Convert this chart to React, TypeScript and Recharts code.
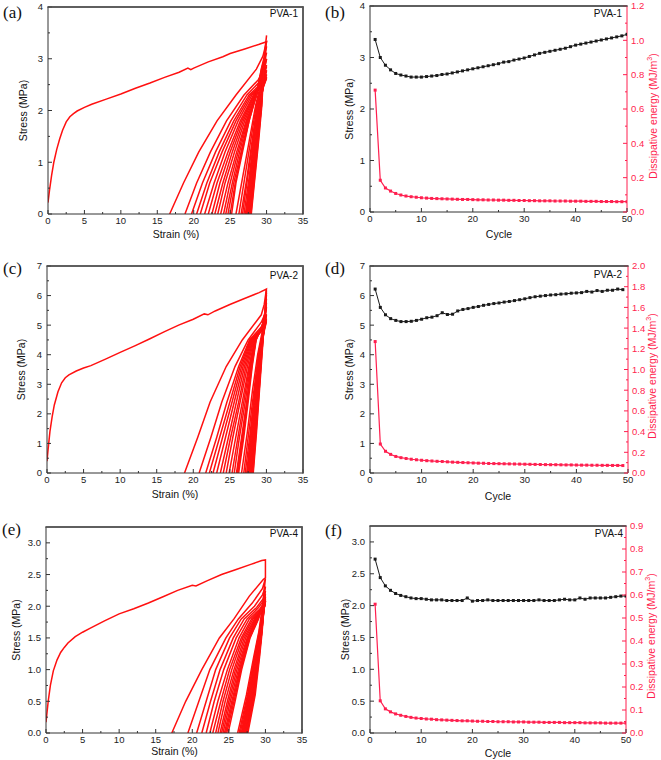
import React from 'react';
import { ComposedChart, Line, XAxis, YAxis, CartesianGrid } from 'recharts';

const FONT = '"Liberation Sans", Arial, sans-serif';
const SERIF = '"Liberation Serif", "Times New Roman", serif';
const AXIS = '#333333';
const FRAME = '#555555';
const LOOP_RED = '#ff1010';
const ENERGY_RED = '#ff1f4f';
const STRESS_BLACK = '#1a1a1a';

// ---------- tick labels ----------
const STRAIN_TICKS = [0, 5, 10, 15, 20, 25, 30, 35];
const CYCLE_TICKS = [0, 10, 20, 30, 40, 50];
const STRESS_TICKS_A = [0, 1, 2, 3, 4];
const STRESS_TICKS_C = [0, 1, 2, 3, 4, 5, 6, 7];
const STRESS_TICKS_E = [0, 0.5, 1, 1.5, 2, 2.5, 3];
const ENERGY_TICKS_B = [0, 0.2, 0.4, 0.6, 0.8, 1.0, 1.2];
const ENERGY_TICKS_D = [0, 0.2, 0.4, 0.6, 0.8, 1.0, 1.2, 1.4, 1.6, 1.8, 2.0];
const ENERGY_TICKS_F = [0, 0.1, 0.2, 0.3, 0.4, 0.5, 0.6, 0.7, 0.8, 0.9];

// ---------- (a) PVA-1 cyclic stress-strain ----------
const LOADING_A = [
  [0, 0.22], [0.2, 0.45], [0.5, 0.75], [0.8, 1.0], [1.2, 1.25], [1.6, 1.45], [2, 1.62],
  [2.5, 1.78], [3, 1.88], [3.5, 1.94], [4, 1.99], [5, 2.06], [6, 2.12], [8, 2.22],
  [10, 2.32], [12, 2.43], [14, 2.53], [16, 2.64], [18, 2.74], [19.2, 2.82], [19.6, 2.79],
  [20, 2.82], [22, 2.94], [24, 3.04], [25, 3.1], [27, 3.19], [29, 3.28], [30, 3.33],
];
const RELOAD_LEVELS_A = [0, 0.7, 1.4, 2.1];
const UNLOAD_LEVELS_A = [0, 0.6, 1.2, 1.8, 2.3];
const FIRST_UNLOAD_A = { top: [[29.5, 3.05], [28.6, 2.8]], down: [16.7, 18.6, 20.7, 23.2, 25.8] };
const LOOPS_A = [
  { up: [25.8, 26.7, 27.6, 28.5], top: [[29.5, 2.7], [30, 3.0], [29.6, 2.8], [28.9, 2.6]], down: [18.8, 20.4, 22.3, 24.5, 26.9] },
  { up: [26.2, 27.0, 27.8, 28.6], top: [[29.5, 2.6], [30, 2.85], [29.6, 2.7], [29.0, 2.55]], down: [19.7, 21.2, 23.0, 25.1, 27.3] },
  { up: [26.5, 27.3, 28.0, 28.7], top: [[29.5, 2.55], [30, 2.76], [29.7, 2.62], [29.1, 2.5]], down: [20.4, 21.8, 23.5, 25.5, 27.6] },
  { up: [26.7, 27.4, 28.1, 28.8], top: [[29.55, 2.5], [30, 2.69], [29.7, 2.58], [29.2, 2.48]], down: [20.9, 22.2, 23.9, 25.8, 27.8] },
  { up: [26.9, 27.6, 28.2, 28.9], top: [[29.6, 2.48], [30, 2.64], [29.7, 2.55], [29.3, 2.47]], down: [21.5, 22.8, 24.3, 26.1, 28.0] },
  { up: [27.1, 27.7, 28.3, 29.0], top: [[29.6, 2.47], [30, 2.62], [29.8, 2.55], [29.4, 2.48]], down: [22.0, 23.2, 24.7, 26.4, 28.2] },
  { up: [27.2, 27.8, 28.4, 29.0], top: [[29.6, 2.5], [30, 2.65], [29.8, 2.58], [29.4, 2.5]], down: [22.5, 23.6, 25.0, 26.6, 28.3] },
  { up: [27.3, 27.9, 28.5, 29.1], top: [[29.65, 2.55], [30, 2.7], [29.8, 2.62], [29.4, 2.53]], down: [22.9, 24.0, 25.3, 26.8, 28.4] },
  { up: [27.4, 28.0, 28.6, 29.1], top: [[29.65, 2.62], [30, 2.78], [29.75, 2.68], [29.3, 2.58]], down: [23.3, 24.3, 25.6, 27.0, 28.5] },
  { up: [27.5, 28.1, 28.6, 29.15], top: [[29.65, 2.7], [30, 2.88], [29.7, 2.75], [29.3, 2.63]], down: [23.7, 24.7, 25.9, 27.2, 28.6] },
  { up: [27.6, 28.15, 28.7, 29.2], top: [[29.65, 2.78], [30, 2.99], [29.7, 2.83], [29.3, 2.68]], down: [24.1, 25.0, 26.1, 27.3, 28.6] },
  { up: [27.7, 28.2, 28.75, 29.25], top: [[29.7, 2.9], [30, 3.12], [29.7, 2.9], [29.3, 2.72]], down: [24.4, 25.3, 26.3, 27.4, 28.6] },
  { up: [27.8, 28.3, 28.8, 29.3], top: [[29.7, 3.0], [30, 3.24], [29.7, 2.97], [29.3, 2.76]], down: [24.7, 25.5, 26.5, 27.5, 28.6] },
  { up: [27.85, 28.35, 28.85, 29.3], top: [[29.7, 3.05], [30, 3.34], [29.7, 3.0], [29.3, 2.8]], down: [25.0, 25.7, 26.6, 27.6, 28.6] },
  { up: [27.9, 28.4, 28.9, 29.35], top: [[29.75, 3.15], [30, 3.45], [29.7, 3.05], [29.3, 2.82]], down: [25.2, 25.8, 26.7, 27.6, 28.6] },
];

// ---------- (c) PVA-2 cyclic stress-strain ----------
const LOADING_C = [
  [0, 0.4], [0.15, 0.8], [0.4, 1.4], [0.7, 1.9], [1, 2.3], [1.5, 2.75], [2, 3.05], [2.5, 3.22],
  [3, 3.32], [4, 3.45], [5, 3.55], [6, 3.63], [8, 3.85], [10, 4.08], [12, 4.3], [14, 4.53],
  [16, 4.77], [18, 5.0], [20, 5.2], [21.5, 5.38], [22, 5.35], [23, 5.48], [25, 5.7], [27, 5.9],
  [29, 6.1], [30, 6.22],
];
const RELOAD_LEVELS_C = [0, 1.4, 2.8, 4.0];
const UNLOAD_LEVELS_C = [0, 1.2, 2.4, 3.6, 4.5];
const FIRST_UNLOAD_C = { top: [[29.7, 5.7], [29.3, 5.35]], down: [18.8, 20.6, 22.3, 24.5, 26.7] };
const LOOPS_C = [
  { up: [26.6, 27.4, 28.1, 28.8], top: [[29.6, 5.0], [30, 5.6], [29.75, 5.35], [29.3, 5.1]], down: [20.8, 22.4, 23.9, 25.7, 27.5] },
  { up: [26.9, 27.6, 28.3, 28.9], top: [[29.6, 4.9], [30, 5.35], [29.75, 5.15], [29.35, 4.95]], down: [21.7, 23.2, 24.6, 26.2, 27.7] },
  { up: [27.1, 27.8, 28.4, 29.0], top: [[29.65, 4.85], [30, 5.22], [29.8, 5.05], [29.4, 4.88]], down: [22.2, 23.6, 25.0, 26.4, 27.8] },
  { up: [27.3, 27.9, 28.5, 29.05], top: [[29.65, 4.8], [30, 5.16], [29.8, 5.0], [29.4, 4.85]], down: [22.7, 24.0, 25.3, 26.6, 27.9] },
  { up: [27.4, 28.0, 28.6, 29.1], top: [[29.7, 4.8], [30, 5.12], [29.8, 4.98], [29.45, 4.82]], down: [23.2, 24.4, 25.6, 26.8, 28.0] },
  { up: [27.5, 28.1, 28.65, 29.1], top: [[29.7, 4.85], [30, 5.2], [29.8, 5.0], [29.45, 4.82]], down: [23.7, 24.8, 25.9, 27.0, 28.1] },
  { up: [27.6, 28.2, 28.7, 29.15], top: [[29.7, 4.9], [30, 5.32], [29.8, 5.05], [29.45, 4.85]], down: [24.1, 25.1, 26.2, 27.2, 28.2] },
  { up: [27.7, 28.25, 28.75, 29.2], top: [[29.7, 4.95], [30, 5.37], [29.8, 5.1], [29.45, 4.87]], down: [24.5, 25.4, 26.4, 27.4, 28.3] },
  { up: [27.8, 28.3, 28.8, 29.2], top: [[29.7, 5.0], [30, 5.6], [29.8, 5.2], [29.45, 4.9]], down: [24.9, 25.8, 26.7, 27.6, 28.4] },
  { up: [27.9, 28.4, 28.85, 29.25], top: [[29.75, 5.1], [30, 5.75], [29.8, 5.25], [29.45, 4.92]], down: [25.3, 26.1, 26.9, 27.7, 28.45] },
  { up: [28.0, 28.45, 28.9, 29.3], top: [[29.75, 5.2], [30, 5.89], [29.8, 5.3], [29.45, 4.95]], down: [25.6, 26.3, 27.1, 27.8, 28.5] },
  { up: [28.05, 28.5, 28.95, 29.3], top: [[29.75, 5.25], [30, 6.02], [29.8, 5.35], [29.45, 4.97]], down: [25.9, 26.6, 27.3, 27.9, 28.5] },
  { up: [28.1, 28.55, 29.0, 29.35], top: [[29.8, 5.3], [30, 6.09], [29.8, 5.4], [29.45, 5.0]], down: [26.0, 26.7, 27.35, 27.95, 28.55] },
  { up: [28.15, 28.6, 29.0, 29.35], top: [[29.8, 5.35], [30, 6.14], [29.8, 5.4], [29.45, 5.0]], down: [26.1, 26.8, 27.4, 28.0, 28.55] },
  { up: [28.2, 28.65, 29.05, 29.4], top: [[29.8, 5.4], [30, 6.2], [29.8, 5.45], [29.45, 5.0]], down: [26.2, 26.9, 27.5, 28.05, 28.6] },
];

// ---------- (e) PVA-4 cyclic stress-strain ----------
const LOADING_E = [
  [0, 0.17], [0.3, 0.5], [0.6, 0.75], [1, 0.98], [1.5, 1.15], [2, 1.27], [2.5, 1.35], [3, 1.42],
  [4, 1.52], [5, 1.59], [6, 1.65], [8, 1.77], [10, 1.88], [12, 1.96], [14, 2.05], [16, 2.15],
  [18, 2.25], [20, 2.33], [20.5, 2.32], [22, 2.4], [24, 2.5], [26, 2.58], [28, 2.66], [29.5, 2.72],
  [30, 2.73],
];
const RELOAD_LEVELS_E = [0, 0.6, 1.2, 1.6];
const UNLOAD_LEVELS_E = [0, 0.5, 1.0, 1.5, 1.8];
const FIRST_UNLOAD_E = { top: [[30, 2.45], [29.7, 2.42], [27.8, 2.16]], down: [17.2, 19.1, 21.3, 23.7, 25.7] };
const LOOPS_E = [
  { up: [26.2, 27.4, 28.4, 29.1], top: [[29.6, 2.0], [30, 2.44], [29.6, 2.28], [28.2, 2.05]], down: [19.4, 20.9, 22.4, 24.6, 26.3] },
  { up: [26.4, 27.55, 28.5, 29.15], top: [[29.65, 1.97], [30, 2.31], [29.6, 2.18], [28.5, 2.0]], down: [20.6, 21.9, 23.2, 25.1, 26.7] },
  { up: [26.55, 27.65, 28.6, 29.2], top: [[29.7, 1.95], [30, 2.24], [29.7, 2.12], [28.8, 1.98]], down: [21.3, 22.5, 23.8, 25.6, 27.1] },
  { up: [26.7, 27.75, 28.7, 29.25], top: [[29.7, 1.94], [30, 2.19], [29.7, 2.08], [29.0, 1.97]], down: [21.9, 23.0, 24.3, 26.0, 27.5] },
  { up: [26.8, 27.85, 28.75, 29.3], top: [[29.72, 1.93], [30, 2.14], [29.75, 2.05], [29.2, 1.95]], down: [22.4, 23.5, 24.8, 26.4, 27.8] },
  { up: [26.9, 27.95, 28.8, 29.3], top: [[29.72, 1.93], [30, 2.11], [29.75, 2.03], [29.3, 1.94]], down: [22.8, 23.9, 25.1, 26.7, 28.1] },
  { up: [27.0, 28.0, 28.85, 29.35], top: [[29.75, 1.93], [30, 2.09], [29.8, 2.02], [29.35, 1.93]], down: [23.2, 24.2, 25.4, 26.9, 28.3] },
  { up: [27.1, 28.1, 28.9, 29.4], top: [[29.75, 1.93], [30, 2.08], [29.8, 2.01], [29.4, 1.93]], down: [23.5, 24.5, 25.7, 27.1, 28.5] },
  { up: [27.2, 28.2, 28.95, 29.4], top: [[29.75, 1.93], [30, 2.07], [29.8, 2.0], [29.45, 1.93]], down: [23.8, 24.8, 25.9, 27.3, 28.6] },
  { up: [27.3, 28.3, 29.0, 29.45], top: [[29.78, 1.94], [30, 2.08], [29.8, 2.01], [29.45, 1.94]], down: [24.0, 25.0, 26.1, 27.5, 28.7] },
  { up: [27.35, 28.35, 29.05, 29.45], top: [[29.78, 1.94], [30, 2.08], [29.8, 2.01], [29.5, 1.94]], down: [24.2, 25.2, 26.3, 27.6, 28.8] },
  { up: [27.4, 28.4, 29.1, 29.5], top: [[29.8, 1.95], [30, 2.08], [29.8, 2.01], [29.5, 1.95]], down: [24.4, 25.4, 26.45, 27.7, 28.9] },
  { up: [27.45, 28.45, 29.1, 29.5], top: [[29.8, 1.96], [30, 2.09], [29.8, 2.02], [29.5, 1.95]], down: [24.55, 25.55, 26.55, 27.8, 28.95] },
  { up: [27.5, 28.5, 29.15, 29.5], top: [[29.8, 1.98], [30, 2.12], [29.8, 2.04], [29.55, 1.97]], down: [24.7, 25.7, 26.65, 27.85, 29.0] },
  { up: [27.6, 28.6, 29.2, 29.55], top: [[29.82, 2.0], [30, 2.15], [29.8, 2.06], [29.55, 1.98]], down: [24.9, 25.85, 26.75, 27.9, 29.05] },
];

// ---------- (b) (d) (f) peak stress and dissipative energy per cycle ----------
const STRESS_B = [
  3.35, 3.0, 2.85, 2.76, 2.69, 2.66, 2.64, 2.62, 2.62, 2.62,
  2.63, 2.64, 2.65, 2.67, 2.68, 2.70, 2.72, 2.74, 2.76, 2.78,
  2.80, 2.82, 2.84, 2.86, 2.88, 2.91, 2.92, 2.95, 2.97, 2.99,
  3.02, 3.05, 3.08, 3.10, 3.12, 3.14, 3.16, 3.18, 3.21, 3.24,
  3.26, 3.28, 3.30, 3.32, 3.34, 3.36, 3.38, 3.40, 3.42, 3.45,
];
const ENERGY_B = [
  0.71, 0.185, 0.14, 0.122, 0.108, 0.099, 0.093, 0.089, 0.086, 0.083,
  0.081, 0.079, 0.078, 0.077, 0.076, 0.075, 0.074, 0.073, 0.073, 0.072,
  0.071, 0.071, 0.070, 0.070, 0.069, 0.069, 0.068, 0.068, 0.067, 0.067,
  0.066, 0.066, 0.065, 0.065, 0.065, 0.064, 0.064, 0.064, 0.063, 0.063,
  0.063, 0.062, 0.062, 0.062, 0.061, 0.061, 0.061, 0.060, 0.060, 0.060,
];
const STRESS_D = [
  6.22, 5.6, 5.35, 5.22, 5.16, 5.12, 5.12, 5.13, 5.16, 5.2,
  5.25, 5.27, 5.32, 5.42, 5.36, 5.37, 5.48, 5.53, 5.56, 5.6,
  5.63, 5.67, 5.7, 5.73, 5.75, 5.78, 5.8, 5.83, 5.86, 5.89,
  5.93, 5.96, 5.98, 6.0, 6.02, 6.03, 6.05, 6.06, 6.08, 6.09,
  6.1, 6.14, 6.12, 6.17, 6.14, 6.18, 6.18, 6.22, 6.2,
];
const ENERGY_D = [
  1.27, 0.28, 0.21, 0.18, 0.16, 0.148, 0.14, 0.133, 0.128, 0.123,
  0.119, 0.116, 0.113, 0.111, 0.108, 0.105, 0.103, 0.101, 0.099, 0.097,
  0.095, 0.094, 0.092, 0.091, 0.09, 0.089, 0.088, 0.087, 0.086, 0.085,
  0.084, 0.083, 0.082, 0.081, 0.08, 0.08, 0.079, 0.078, 0.078, 0.077,
  0.076, 0.076, 0.075, 0.075, 0.074, 0.074, 0.073, 0.073, 0.072,
];
const STRESS_F = [
  2.73, 2.44, 2.31, 2.24, 2.19, 2.16, 2.14, 2.12, 2.11, 2.11,
  2.10, 2.09, 2.09, 2.09, 2.08, 2.08, 2.08, 2.08, 2.12, 2.07,
  2.08, 2.08, 2.09, 2.08, 2.08, 2.08, 2.08, 2.08, 2.08, 2.08,
  2.08, 2.08, 2.09, 2.08, 2.08, 2.08, 2.09, 2.1, 2.09, 2.09,
  2.12, 2.1, 2.12, 2.12, 2.12, 2.12, 2.13, 2.14, 2.15, 2.15,
];
const ENERGY_F = [
  0.56, 0.14, 0.105, 0.092, 0.083, 0.077, 0.072, 0.068, 0.065, 0.063,
  0.061, 0.06, 0.058, 0.057, 0.056, 0.055, 0.054, 0.053, 0.053, 0.052,
  0.051, 0.051, 0.05, 0.05, 0.049, 0.049, 0.049, 0.048, 0.048, 0.048,
  0.047, 0.047, 0.047, 0.046, 0.046, 0.046, 0.046, 0.045, 0.045, 0.045,
  0.045, 0.044, 0.044, 0.044, 0.044, 0.043, 0.043, 0.043, 0.043, 0.043,
];

// ---------- layout of the six panels ----------
const Y_AXIS_W = 30;
const X_AXIS_H = 20;
const LAYOUT_A = { x: 0, y: 0, w: 330, h: 250, margin: { top: 7, right: 27, bottom: 16, left: 18 } };
const LAYOUT_C = { x: 0, y: 250, w: 330, h: 255, margin: { top: 16, right: 27, bottom: 12, left: 17 } };
const LAYOUT_E = { x: 0, y: 505, w: 330, h: 255, margin: { top: 22, right: 28, bottom: 7, left: 16 } };
const LAYOUT_B = { x: 330, y: 0, w: 331, h: 250, margin: { top: 6, right: 4, bottom: 18, left: 10 } };
const LAYOUT_D = { x: 330, y: 250, w: 331, h: 255, margin: { top: 16, right: 3, bottom: 12, left: 10 } };
const LAYOUT_F = { x: 330, y: 505, w: 331, h: 255, margin: { top: 21, right: 5, bottom: 7, left: 10 } };

// ---------- helpers ----------
type Loop = { up: number[]; top: number[][]; down: number[] };
type Pt = { x: number; y: number };

function loopPoints(loop: Loop, upLv: number[], downLv: number[]): Pt[] {
  const pts: Pt[] = loop.up.map((x, i) => ({ x, y: upLv[i] }));
  loop.top.forEach(([x, y]) => pts.push({ x, y }));
  for (let i = downLv.length - 1; i >= 0; i--) pts.push({ x: loop.down[i], y: downLv[i] });
  return pts;
}

function firstPoints(loading: number[][], first: { top: number[][]; down: number[] }, downLv: number[]): Pt[] {
  const pts: Pt[] = loading.map(([x, y]) => ({ x, y }));
  first.top.forEach(([x, y]) => pts.push({ x, y }));
  for (let i = downLv.length - 1; i >= 0; i--) pts.push({ x: first.down[i], y: downLv[i] });
  return pts;
}

// majors plus a minor tick half way between each pair
function withMinors(majors: number[]) {
  const out: number[] = [];
  majors.forEach((v, i) => {
    if (i > 0) out.push((majors[i - 1] + v) / 2);
    out.push(v);
  });
  return out;
}

function makeTick(side: 'bottom' | 'left' | 'right', majors: number[], digits: number, color: string) {
  const majorSet = new Set(majors);
  return (props: any) => {
    const { x, y, payload } = props;
    const v = payload.value;
    const major = majorSet.has(v);
    const len = major ? 4 : 2;
    const label = v.toFixed(digits);
    const textFill = side === 'right' ? color : '#222';
    if (side === 'bottom') {
      return (
        <g>
          <line x1={x} x2={x} y1={y} y2={y - len} stroke={color} />
          {major && (
            <text x={x} y={y + 10} textAnchor="middle" fontSize={9.5} fontFamily={FONT} fill={textFill}>{label}</text>
          )}
        </g>
      );
    }
    if (side === 'left') {
      return (
        <g>
          <line x1={x} x2={x + len} y1={y} y2={y} stroke={color} />
          {major && (
            <text x={x - 5} y={y + 3.4} textAnchor="end" fontSize={9.5} fontFamily={FONT} fill={textFill}>{label}</text>
          )}
        </g>
      );
    }
    return (
      <g>
        <line x1={x} x2={x - len} y1={y} y2={y} stroke={color} />
        {major && (
          <text x={x + 4} y={y + 3.4} textAnchor="start" fontSize={9.5} fontFamily={FONT} fill={textFill}>{label}</text>
        )}
      </g>
    );
  };
}

const squareDot = (color: string) => (p: any) => (
  <rect key={`d${p.index}`} x={p.cx - 1.5} y={p.cy - 1.5} width={3} height={3} fill={color} />
);

// the plot box edges that have no axis: top edge, plus right edge on the strain panels
const topEdge = ({ offset }: any) => [offset.top];
const rightEdge = ({ offset }: any) => [offset.left + offset.width];

// ---------- panels ----------
function StrainPanel({ layout, yMax, yTicks, yDigits, loading, first, loops, upLv, downLv }: any) {
  const paths = [firstPoints(loading, first, downLv), ...loops.map((l: Loop) => loopPoints(l, upLv, downLv))];
  return (
    <div style={{ position: 'absolute', left: layout.x, top: layout.y }}>
      <ComposedChart width={layout.w} height={layout.h} margin={layout.margin}>
        <CartesianGrid
          stroke={FRAME} strokeWidth={1.5}
          horizontalCoordinatesGenerator={topEdge} verticalCoordinatesGenerator={rightEdge}
        />
        <XAxis
          type="number" dataKey="x" domain={[0, 35]} allowDataOverflow
          ticks={withMinors(STRAIN_TICKS)} interval={0} tickSize={0} tickMargin={0} height={X_AXIS_H}
          tick={makeTick('bottom', STRAIN_TICKS, 0, AXIS)} tickLine={false} axisLine={{ stroke: AXIS }}
        />
        <YAxis
          type="number" domain={[0, yMax]} allowDataOverflow width={Y_AXIS_W}
          ticks={withMinors(yTicks)} interval={0} tickSize={0} tickMargin={0}
          tick={makeTick('left', yTicks, yDigits, AXIS)} tickLine={false} axisLine={{ stroke: AXIS }}
        />
        {paths.map((d, i) => (
          <Line
            key={i} data={d} dataKey="y" type="linear" stroke={LOOP_RED} strokeWidth={1.5}
            dot={false} activeDot={false} isAnimationActive={false}
          />
        ))}
      </ComposedChart>
    </div>
  );
}

function CyclePanel({ layout, stress, energy, yMax, yTicks, yDigits, eMax, eTicks }: any) {
  const rows = stress.map((s: number, i: number) => ({ cycle: i + 1, stress: s, energy: energy[i] }));
  return (
    <div style={{ position: 'absolute', left: layout.x, top: layout.y }}>
      <ComposedChart width={layout.w} height={layout.h} margin={layout.margin} data={rows}>
        <CartesianGrid
          yAxisId="left" stroke={FRAME} strokeWidth={1.5} vertical={false}
          horizontalCoordinatesGenerator={topEdge}
        />
        <XAxis
          type="number" dataKey="cycle" domain={[0, 50]} allowDataOverflow
          ticks={withMinors(CYCLE_TICKS)} interval={0} tickSize={0} tickMargin={0} height={X_AXIS_H}
          tick={makeTick('bottom', CYCLE_TICKS, 0, AXIS)} tickLine={false} axisLine={{ stroke: AXIS }}
        />
        <YAxis
          yAxisId="left" type="number" domain={[0, yMax]} allowDataOverflow width={Y_AXIS_W}
          ticks={withMinors(yTicks)} interval={0} tickSize={0} tickMargin={0}
          tick={makeTick('left', yTicks, yDigits, AXIS)} tickLine={false} axisLine={{ stroke: AXIS }}
        />
        <YAxis
          yAxisId="right" orientation="right" type="number" domain={[0, eMax]} allowDataOverflow width={Y_AXIS_W}
          ticks={withMinors(eTicks)} interval={0} tickSize={0} tickMargin={0}
          tick={makeTick('right', eTicks, 1, ENERGY_RED)} tickLine={false} axisLine={{ stroke: ENERGY_RED }}
        />
        <Line
          yAxisId="left" dataKey="stress" type="linear" stroke={STRESS_BLACK} strokeWidth={1}
          dot={squareDot(STRESS_BLACK)} activeDot={false} isAnimationActive={false}
        />
        <Line
          yAxisId="right" dataKey="energy" type="linear" stroke={ENERGY_RED} strokeWidth={1.2}
          dot={squareDot(ENERGY_RED)} activeDot={false} isAnimationActive={false}
        />
      </ComposedChart>
    </div>
  );
}

// top edge (and right edge for the strain panels) of each plot box, from the layout
function frameLines(l: any, withRight: boolean, rightAxis: boolean) {
  const left = l.x + l.margin.left + Y_AXIS_W;
  const right = l.x + l.w - l.margin.right - (rightAxis ? Y_AXIS_W : 0);
  const top = l.y + l.margin.top;
  const bottom = l.y + l.h - l.margin.bottom - X_AXIS_H;
  const lines = [{ x1: left, y1: top, x2: right, y2: top }];
  if (withRight) lines.push({ x1: right, y1: top, x2: right, y2: bottom });
  return lines;
}

// text that sits over the six charts: panel letters, sample names, axis titles
const PANEL_LETTERS = [
  { t: '(a)', x: 3, y: 18 }, { t: '(b)', x: 325, y: 18 },
  { t: '(c)', x: 3, y: 274 }, { t: '(d)', x: 325, y: 274 },
  { t: '(e)', x: 2, y: 535 }, { t: '(f)', x: 325, y: 536 },
];
const SAMPLE_NAMES = [
  { t: 'PVA-1', x: 298, y: 17 }, { t: 'PVA-1', x: 622, y: 17 },
  { t: 'PVA-2', x: 298, y: 279 }, { t: 'PVA-2', x: 622, y: 278 },
  { t: 'PVA-4', x: 298, y: 537 }, { t: 'PVA-4', x: 623, y: 537 },
];
const X_TITLES = [
  { t: 'Strain (%)', x: 176, y: 233.5 }, { t: 'Cycle', x: 499, y: 234 },
  { t: 'Strain (%)', x: 175, y: 494 }, { t: 'Cycle', x: 498, y: 496 },
  { t: 'Strain (%)', x: 174.5, y: 751 }, { t: 'Cycle', x: 498, y: 753 },
];
const Y_TITLES = [
  { x: 23, y: 110.5 }, { x: 349, y: 109 },
  { x: 21, y: 369.5 }, { x: 349, y: 369.5 },
  { x: 15.5, y: 630 }, { x: 344.5, y: 629.5 },
];
const ENERGY_TITLES = [
  { x: 653, y: 116 }, { x: 652, y: 376 }, { x: 650.5, y: 636 },
];

function Overlay() {
  const frames = [
    ...[LAYOUT_A, LAYOUT_C, LAYOUT_E].flatMap((l) => frameLines(l, true, false)),
    ...[LAYOUT_B, LAYOUT_D, LAYOUT_F].flatMap((l) => frameLines(l, false, true)),
  ];
  return (
    <svg width={661} height={760} style={{ position: 'absolute', left: 0, top: 0, pointerEvents: 'none', zIndex: 5 }}>
      {frames.map((f, i) => (
        <line key={`f${i}`} x1={f.x1} y1={f.y1} x2={f.x2} y2={f.y2} stroke={FRAME} strokeWidth={1.5} strokeLinecap="square" />
      ))}
      {PANEL_LETTERS.map((p, i) => (
        <text key={`l${i}`} x={p.x} y={p.y} fontFamily={SERIF} fontSize={17} fill="#111">{p.t}</text>
      ))}
      {SAMPLE_NAMES.map((p, i) => (
        <text key={`s${i}`} x={p.x} y={p.y} textAnchor="end" fontFamily={FONT} fontSize={10} fill="#111">{p.t}</text>
      ))}
      {X_TITLES.map((p, i) => (
        <text key={`x${i}`} x={p.x} y={p.y} textAnchor="middle" dominantBaseline="central" fontFamily={FONT} fontSize={10.5} fill="#111">{p.t}</text>
      ))}
      {Y_TITLES.map((p, i) => (
        <text key={`y${i}`} transform={`translate(${p.x},${p.y}) rotate(-90)`} textAnchor="middle" dominantBaseline="central" fontFamily={FONT} fontSize={10.5} fill="#111">Stress (MPa)</text>
      ))}
      {ENERGY_TITLES.map((p, i) => (
        <text key={`e${i}`} transform={`translate(${p.x},${p.y}) rotate(-90)`} textAnchor="middle" dominantBaseline="central" fontFamily={FONT} fontSize={10.5} fill={ENERGY_RED}>
          Dissipative energy (MJ/m<tspan dy={-4} fontSize={7}>3</tspan><tspan dy={4}>)</tspan>
        </text>
      ))}
    </svg>
  );
}

export default function App() {
  return (
    <div style={{ position: 'absolute', left: 0, top: 0, width: 661, height: 760, background: '#fff' }}>
      <StrainPanel
        layout={LAYOUT_A} yMax={4} yTicks={STRESS_TICKS_A} yDigits={0}
        loading={LOADING_A} first={FIRST_UNLOAD_A} loops={LOOPS_A} upLv={RELOAD_LEVELS_A} downLv={UNLOAD_LEVELS_A}
      />
      <StrainPanel
        layout={LAYOUT_C} yMax={7} yTicks={STRESS_TICKS_C} yDigits={0}
        loading={LOADING_C} first={FIRST_UNLOAD_C} loops={LOOPS_C} upLv={RELOAD_LEVELS_C} downLv={UNLOAD_LEVELS_C}
      />
      <StrainPanel
        layout={LAYOUT_E} yMax={3.25} yTicks={STRESS_TICKS_E} yDigits={1}
        loading={LOADING_E} first={FIRST_UNLOAD_E} loops={LOOPS_E} upLv={RELOAD_LEVELS_E} downLv={UNLOAD_LEVELS_E}
      />
      <CyclePanel
        layout={LAYOUT_B} stress={STRESS_B} energy={ENERGY_B}
        yMax={4} yTicks={STRESS_TICKS_A} yDigits={0} eMax={1.2} eTicks={ENERGY_TICKS_B}
      />
      <CyclePanel
        layout={LAYOUT_D} stress={STRESS_D} energy={ENERGY_D}
        yMax={7} yTicks={STRESS_TICKS_C} yDigits={0} eMax={2.0} eTicks={ENERGY_TICKS_D}
      />
      <CyclePanel
        layout={LAYOUT_F} stress={STRESS_F} energy={ENERGY_F}
        yMax={3.25} yTicks={STRESS_TICKS_E} yDigits={1} eMax={0.9} eTicks={ENERGY_TICKS_F}
      />
      <Overlay />
    </div>
  );
}
